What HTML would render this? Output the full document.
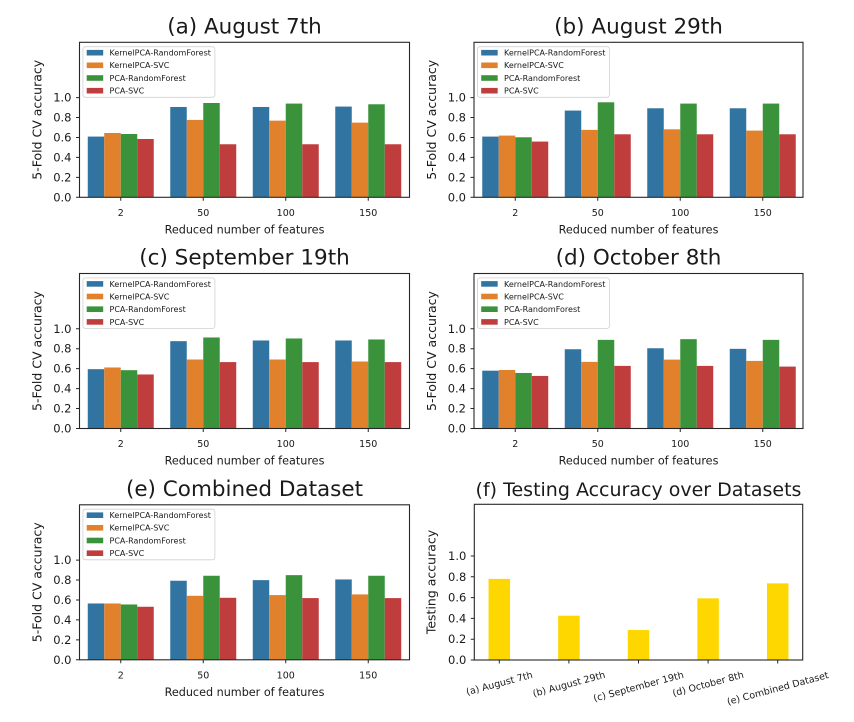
<!DOCTYPE html>
<html><head><meta charset="utf-8"><style>
html,body{margin:0;padding:0;background:#fff}
svg{display:block}
text{font-family:"DejaVu Sans","Liberation Sans",sans-serif;fill:#1a1a1a}
.b{fill:#3274a1}.o{fill:#e1812c}.g{fill:#3a923a}.r{fill:#c03d3e}.y{fill:#ffd700}
.yt{font-size:11.5px;text-anchor:end}
.xt{font-size:9.5px;text-anchor:middle}
.xl{font-size:11.2px;text-anchor:middle}
.yl{font-size:12.5px;text-anchor:middle}
.ti{font-size:21.5px;text-anchor:middle}
.lg{font-size:8px}
.sp{fill:none;stroke:#262626;stroke-width:1.1}
.tk{stroke:#262626;stroke-width:1;fill:none}
.lb{fill:#fff;fill-opacity:.85;stroke:#d0d0d0;stroke-width:.8}
</style></head><body>
<svg width="854" height="722" viewBox="0 0 854 722" xmlns="http://www.w3.org/2000/svg">

<!-- Panel a -->
<g transform="translate(79.5,197.3)">
 <g transform="scale(1,-99.7)">
  <rect class="b" x="8.25" width="16.5" height=".609"/><rect class="o" x="24.75" width="16.5" height=".645"/><rect class="g" x="41.25" width="16.5" height=".635"/><rect class="r" x="57.75" width="16.5" height=".585"/>
  <rect class="b" x="90.75" width="16.5" height=".906"/><rect class="o" x="107.25" width="16.5" height=".776"/><rect class="g" x="123.75" width="16.5" height=".946"/><rect class="r" x="140.25" width="16.5" height=".532"/>
  <rect class="b" x="173.25" width="16.5" height=".906"/><rect class="o" x="189.75" width="16.5" height=".769"/><rect class="g" x="206.25" width="16.5" height=".940"/><rect class="r" x="222.75" width="16.5" height=".532"/>
  <rect class="b" x="255.75" width="16.5" height=".910"/><rect class="o" x="272.25" width="16.5" height=".749"/><rect class="g" x="288.75" width="16.5" height=".933"/><rect class="r" x="305.25" width="16.5" height=".532"/>
 </g>
 <rect class="sp" x="0" y="-155" width="330" height="155"/>
 <path class="tk" d="M0,0h-3.5M0,-19.94h-3.5M0,-39.88h-3.5M0,-59.82h-3.5M0,-79.76h-3.5M0,-99.7h-3.5M41.25,0v3.5M123.75,0v3.5M206.25,0v3.5M288.75,0v3.5"/>
 <text class="yt" x="-8" y="4">0.0</text><text class="yt" x="-8" y="-15.9">0.2</text><text class="yt" x="-8" y="-35.9">0.4</text><text class="yt" x="-8" y="-55.8">0.6</text><text class="yt" x="-8" y="-75.8">0.8</text><text class="yt" x="-8" y="-95.7">1.0</text>
 <text class="xt" x="41.25" y="18.7">2</text><text class="xt" x="123.75" y="18.7">50</text><text class="xt" x="206.25" y="18.7">100</text><text class="xt" x="288.75" y="18.7">150</text>
 <text class="xl" x="165" y="36.2">Reduced number of features</text>
 <text class="yl" transform="translate(-38,-77.5) rotate(-90)">5-Fold CV accuracy</text>
 <text class="ti" x="165" y="-164">(a) August 7th</text>
 <rect class="lb" x="3.4" y="-150.6" width="132" height="50.6" rx="2.5"/>
 <rect class="b" x="7.2" y="-147.4" width="16.5" height="5.6"/><rect class="o" x="7.2" y="-134.8" width="16.5" height="5.6"/><rect class="g" x="7.2" y="-122.1" width="16.5" height="5.6"/><rect class="r" x="7.2" y="-109.4" width="16.5" height="5.6"/>
 <text class="lg" x="30" y="-141.7">KernelPCA-RandomForest</text><text class="lg" x="30" y="-129.1">KernelPCA-SVC</text><text class="lg" x="30" y="-116.4">PCA-RandomForest</text><text class="lg" x="30" y="-103.7">PCA-SVC</text>
</g>

<!-- Panel b -->
<g transform="translate(474,197.3)">
 <g transform="scale(1,-99.7)">
  <rect class="b" x="8.25" width="16.5" height=".609"/><rect class="o" x="24.75" width="16.5" height=".619"/><rect class="g" x="41.25" width="16.5" height=".602"/><rect class="r" x="57.75" width="16.5" height=".559"/>
  <rect class="b" x="90.75" width="16.5" height=".870"/><rect class="o" x="107.25" width="16.5" height=".676"/><rect class="g" x="123.75" width="16.5" height=".953"/><rect class="r" x="140.25" width="16.5" height=".632"/>
  <rect class="b" x="173.25" width="16.5" height=".893"/><rect class="o" x="189.75" width="16.5" height=".682"/><rect class="g" x="206.25" width="16.5" height=".940"/><rect class="r" x="222.75" width="16.5" height=".632"/>
  <rect class="b" x="255.75" width="16.5" height=".893"/><rect class="o" x="272.25" width="16.5" height=".669"/><rect class="g" x="288.75" width="16.5" height=".940"/><rect class="r" x="305.25" width="16.5" height=".632"/>
 </g>
 <rect class="sp" x="0" y="-155" width="329" height="155"/>
 <path class="tk" d="M0,0h-3.5M0,-19.94h-3.5M0,-39.88h-3.5M0,-59.82h-3.5M0,-79.76h-3.5M0,-99.7h-3.5M41.25,0v3.5M123.75,0v3.5M206.25,0v3.5M288.75,0v3.5"/>
 <text class="yt" x="-8" y="4">0.0</text><text class="yt" x="-8" y="-15.9">0.2</text><text class="yt" x="-8" y="-35.9">0.4</text><text class="yt" x="-8" y="-55.8">0.6</text><text class="yt" x="-8" y="-75.8">0.8</text><text class="yt" x="-8" y="-95.7">1.0</text>
 <text class="xt" x="41.25" y="18.7">2</text><text class="xt" x="123.75" y="18.7">50</text><text class="xt" x="206.25" y="18.7">100</text><text class="xt" x="288.75" y="18.7">150</text>
 <text class="xl" x="164.5" y="36.2">Reduced number of features</text>
 <text class="yl" transform="translate(-38,-77.5) rotate(-90)">5-Fold CV accuracy</text>
 <text class="ti" x="164.5" y="-164">(b) August 29th</text>
 <rect class="lb" x="3.4" y="-150.6" width="132" height="50.6" rx="2.5"/>
 <rect class="b" x="7.2" y="-147.4" width="16.5" height="5.6"/><rect class="o" x="7.2" y="-134.8" width="16.5" height="5.6"/><rect class="g" x="7.2" y="-122.1" width="16.5" height="5.6"/><rect class="r" x="7.2" y="-109.4" width="16.5" height="5.6"/>
 <text class="lg" x="30" y="-141.7">KernelPCA-RandomForest</text><text class="lg" x="30" y="-129.1">KernelPCA-SVC</text><text class="lg" x="30" y="-116.4">PCA-RandomForest</text><text class="lg" x="30" y="-103.7">PCA-SVC</text>
</g>

<!-- Panel c -->
<g transform="translate(79.5,428.5)">
 <g transform="scale(1,-99.7)">
  <rect class="b" x="8.25" width="16.5" height=".595"/><rect class="o" x="24.75" width="16.5" height=".612"/><rect class="g" x="41.25" width="16.5" height=".585"/><rect class="r" x="57.75" width="16.5" height=".542"/>
  <rect class="b" x="90.75" width="16.5" height=".876"/><rect class="o" x="107.25" width="16.5" height=".692"/><rect class="g" x="123.75" width="16.5" height=".913"/><rect class="r" x="140.25" width="16.5" height=".666"/>
  <rect class="b" x="173.25" width="16.5" height=".883"/><rect class="o" x="189.75" width="16.5" height=".692"/><rect class="g" x="206.25" width="16.5" height=".903"/><rect class="r" x="222.75" width="16.5" height=".666"/>
  <rect class="b" x="255.75" width="16.5" height=".883"/><rect class="o" x="272.25" width="16.5" height=".672"/><rect class="g" x="288.75" width="16.5" height=".893"/><rect class="r" x="305.25" width="16.5" height=".666"/>
 </g>
 <rect class="sp" x="0" y="-155" width="330" height="155"/>
 <path class="tk" d="M0,0h-3.5M0,-19.94h-3.5M0,-39.88h-3.5M0,-59.82h-3.5M0,-79.76h-3.5M0,-99.7h-3.5M41.25,0v3.5M123.75,0v3.5M206.25,0v3.5M288.75,0v3.5"/>
 <text class="yt" x="-8" y="4">0.0</text><text class="yt" x="-8" y="-15.9">0.2</text><text class="yt" x="-8" y="-35.9">0.4</text><text class="yt" x="-8" y="-55.8">0.6</text><text class="yt" x="-8" y="-75.8">0.8</text><text class="yt" x="-8" y="-95.7">1.0</text>
 <text class="xt" x="41.25" y="18.7">2</text><text class="xt" x="123.75" y="18.7">50</text><text class="xt" x="206.25" y="18.7">100</text><text class="xt" x="288.75" y="18.7">150</text>
 <text class="xl" x="165" y="36.2">Reduced number of features</text>
 <text class="yl" transform="translate(-38,-77.5) rotate(-90)">5-Fold CV accuracy</text>
 <text class="ti" x="165" y="-164">(c) September 19th</text>
 <rect class="lb" x="3.4" y="-150.6" width="132" height="50.6" rx="2.5"/>
 <rect class="b" x="7.2" y="-147.4" width="16.5" height="5.6"/><rect class="o" x="7.2" y="-134.8" width="16.5" height="5.6"/><rect class="g" x="7.2" y="-122.1" width="16.5" height="5.6"/><rect class="r" x="7.2" y="-109.4" width="16.5" height="5.6"/>
 <text class="lg" x="30" y="-141.7">KernelPCA-RandomForest</text><text class="lg" x="30" y="-129.1">KernelPCA-SVC</text><text class="lg" x="30" y="-116.4">PCA-RandomForest</text><text class="lg" x="30" y="-103.7">PCA-SVC</text>
</g>

<!-- Panel d -->
<g transform="translate(474,428.5)">
 <g transform="scale(1,-99.7)">
  <rect class="b" x="8.25" width="16.5" height=".580"/><rect class="o" x="24.75" width="16.5" height=".587"/><rect class="g" x="41.25" width="16.5" height=".557"/><rect class="r" x="57.75" width="16.5" height=".527"/>
  <rect class="b" x="90.75" width="16.5" height=".795"/><rect class="o" x="107.25" width="16.5" height=".668"/><rect class="g" x="123.75" width="16.5" height=".889"/><rect class="r" x="140.25" width="16.5" height=".628"/>
  <rect class="b" x="173.25" width="16.5" height=".805"/><rect class="o" x="189.75" width="16.5" height=".691"/><rect class="g" x="206.25" width="16.5" height=".896"/><rect class="r" x="222.75" width="16.5" height=".628"/>
  <rect class="b" x="255.75" width="16.5" height=".799"/><rect class="o" x="272.25" width="16.5" height=".678"/><rect class="g" x="288.75" width="16.5" height=".889"/><rect class="r" x="305.25" width="16.5" height=".621"/>
 </g>
 <rect class="sp" x="0" y="-155" width="329" height="155"/>
 <path class="tk" d="M0,0h-3.5M0,-19.94h-3.5M0,-39.88h-3.5M0,-59.82h-3.5M0,-79.76h-3.5M0,-99.7h-3.5M41.25,0v3.5M123.75,0v3.5M206.25,0v3.5M288.75,0v3.5"/>
 <text class="yt" x="-8" y="4">0.0</text><text class="yt" x="-8" y="-15.9">0.2</text><text class="yt" x="-8" y="-35.9">0.4</text><text class="yt" x="-8" y="-55.8">0.6</text><text class="yt" x="-8" y="-75.8">0.8</text><text class="yt" x="-8" y="-95.7">1.0</text>
 <text class="xt" x="41.25" y="18.7">2</text><text class="xt" x="123.75" y="18.7">50</text><text class="xt" x="206.25" y="18.7">100</text><text class="xt" x="288.75" y="18.7">150</text>
 <text class="xl" x="164.5" y="36.2">Reduced number of features</text>
 <text class="yl" transform="translate(-38,-77.5) rotate(-90)">5-Fold CV accuracy</text>
 <text class="ti" x="164.5" y="-164">(d) October 8th</text>
 <rect class="lb" x="3.4" y="-150.6" width="132" height="50.6" rx="2.5"/>
 <rect class="b" x="7.2" y="-147.4" width="16.5" height="5.6"/><rect class="o" x="7.2" y="-134.8" width="16.5" height="5.6"/><rect class="g" x="7.2" y="-122.1" width="16.5" height="5.6"/><rect class="r" x="7.2" y="-109.4" width="16.5" height="5.6"/>
 <text class="lg" x="30" y="-141.7">KernelPCA-RandomForest</text><text class="lg" x="30" y="-129.1">KernelPCA-SVC</text><text class="lg" x="30" y="-116.4">PCA-RandomForest</text><text class="lg" x="30" y="-103.7">PCA-SVC</text>
</g>

<!-- Panel e -->
<g transform="translate(79.5,659.8)">
 <g transform="scale(1,-99.7)">
  <rect class="b" x="8.25" width="16.5" height=".565"/><rect class="o" x="24.75" width="16.5" height=".565"/><rect class="g" x="41.25" width="16.5" height=".555"/><rect class="r" x="57.75" width="16.5" height=".532"/>
  <rect class="b" x="90.75" width="16.5" height=".793"/><rect class="o" x="107.25" width="16.5" height=".642"/><rect class="g" x="123.75" width="16.5" height=".843"/><rect class="r" x="140.25" width="16.5" height=".622"/>
  <rect class="b" x="173.25" width="16.5" height=".799"/><rect class="o" x="189.75" width="16.5" height=".649"/><rect class="g" x="206.25" width="16.5" height=".849"/><rect class="r" x="222.75" width="16.5" height=".619"/>
  <rect class="b" x="255.75" width="16.5" height=".806"/><rect class="o" x="272.25" width="16.5" height=".656"/><rect class="g" x="288.75" width="16.5" height=".843"/><rect class="r" x="305.25" width="16.5" height=".619"/>
 </g>
 <rect class="sp" x="0" y="-155" width="330" height="155"/>
 <path class="tk" d="M0,0h-3.5M0,-19.94h-3.5M0,-39.88h-3.5M0,-59.82h-3.5M0,-79.76h-3.5M0,-99.7h-3.5M41.25,0v3.5M123.75,0v3.5M206.25,0v3.5M288.75,0v3.5"/>
 <text class="yt" x="-8" y="4">0.0</text><text class="yt" x="-8" y="-15.9">0.2</text><text class="yt" x="-8" y="-35.9">0.4</text><text class="yt" x="-8" y="-55.8">0.6</text><text class="yt" x="-8" y="-75.8">0.8</text><text class="yt" x="-8" y="-95.7">1.0</text>
 <text class="xt" x="41.25" y="18.7">2</text><text class="xt" x="123.75" y="18.7">50</text><text class="xt" x="206.25" y="18.7">100</text><text class="xt" x="288.75" y="18.7">150</text>
 <text class="xl" x="165" y="36.2">Reduced number of features</text>
 <text class="yl" transform="translate(-38,-77.5) rotate(-90)">5-Fold CV accuracy</text>
 <text class="ti" x="165" y="-164">(e) Combined Dataset</text>
 <rect class="lb" x="3.4" y="-150.6" width="132" height="50.6" rx="2.5"/>
 <rect class="b" x="7.2" y="-147.4" width="16.5" height="5.6"/><rect class="o" x="7.2" y="-134.8" width="16.5" height="5.6"/><rect class="g" x="7.2" y="-122.1" width="16.5" height="5.6"/><rect class="r" x="7.2" y="-109.4" width="16.5" height="5.6"/>
 <text class="lg" x="30" y="-141.7">KernelPCA-RandomForest</text><text class="lg" x="30" y="-129.1">KernelPCA-SVC</text><text class="lg" x="30" y="-116.4">PCA-RandomForest</text><text class="lg" x="30" y="-103.7">PCA-SVC</text>
</g>

<!-- Panel f -->
<g transform="translate(474.3,660)">
 <g transform="scale(1,-104)">
  <rect class="y" x="14.25" width="21.5" height=".780"/>
  <rect class="y" x="83.85" width="21.5" height=".426"/>
  <rect class="y" x="153.45" width="21.5" height=".288"/>
  <rect class="y" x="223.05" width="21.5" height=".593"/>
  <rect class="y" x="292.65" width="21.5" height=".737"/>
 </g>
 <rect class="sp" x="0" y="-155.7" width="328.4" height="155.7"/>
 <path class="tk" d="M0,0h-3.5M0,-20.8h-3.5M0,-41.6h-3.5M0,-62.4h-3.5M0,-83.2h-3.5M0,-104h-3.5M25,0v3.5M94.6,0v3.5M164.2,0v3.5M233.8,0v3.5M303.4,0v3.5"/>
 <text class="yt" x="-8" y="4">0.0</text><text class="yt" x="-8" y="-16.8">0.2</text><text class="yt" x="-8" y="-37.6">0.4</text><text class="yt" x="-8" y="-58.4">0.6</text><text class="yt" x="-8" y="-79.2">0.8</text><text class="yt" x="-8" y="-100">1.0</text>
 <text class="xt" x="25" y="26.5" transform="rotate(-15 25 23.2)">(a) August 7th</text>
 <text class="xt" x="94.6" y="27.3" transform="rotate(-15 94.6 24)">(b) August 29th</text>
 <text class="xt" x="164.2" y="29.7" transform="rotate(-15 164.2 26.4)">(c) September 19th</text>
 <text class="xt" x="233.8" y="27.1" transform="rotate(-15 233.8 23.8)">(d) October 8th</text>
 <text class="xt" x="303.4" y="31.5" transform="rotate(-15 303.4 28.2)">(e) Combined Dataset</text>
 <text class="yl" transform="translate(-38.8,-78) rotate(-90)">Testing accuracy</text>
 <text class="ti" x="164.2" y="-164" style="font-size:19px">(f) Testing Accuracy over Datasets</text>
</g>
</svg>
</body></html>
